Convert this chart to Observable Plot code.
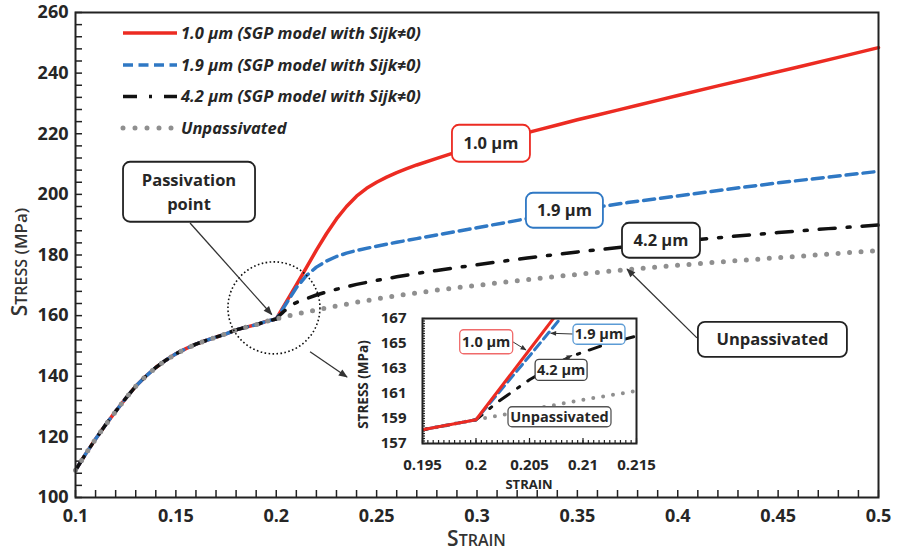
<!DOCTYPE html>
<html>
<head>
<meta charset="utf-8">
<script src="https://cdn.jsdelivr.net/npm/d3@7"></script>
<script src="https://cdn.jsdelivr.net/npm/@observablehq/plot@0.6"></script>
<style>
  body { margin: 0; background: #fff; }
  #chart { position: relative; width: 897px; height: 552px; }
</style>
</head>
<body>
<div id="chart"></div>
<script>
// ---------------- DATA ----------------
const seriesNames = [
  "1.0 µm (SGP model with Sijk≠0)",
  "1.9 µm (SGP model with Sijk≠0)",
  "4.2 µm (SGP model with Sijk≠0)",
  "Unpassivated"
];
const boxTexts = ["1.0 µm", "1.9 µm", "4.2 µm", "Unpassivated"];

// common curve up to the passivation point (strain 0.2)
const commonStrain = [0.1, 0.105, 0.11, 0.115, 0.12, 0.125, 0.13, 0.135, 0.14, 0.145, 0.15, 0.155, 0.16, 0.165, 0.17, 0.175, 0.18, 0.185, 0.19, 0.195, 0.2];
const commonStress = [109.0, 114.3, 119.3, 124.0, 128.4, 132.7, 136.7, 140.0, 142.9, 145.3, 147.4, 149.1, 150.6, 151.8, 152.9, 154.0, 155.3, 156.2, 157.0, 158.1, 158.9];

// 1.0 µm branch
const strain10 = [0.205, 0.21, 0.215, 0.22, 0.225, 0.23, 0.235, 0.24, 0.245, 0.25, 0.255, 0.26, 0.265, 0.27, 0.28, 0.29, 0.3, 0.31, 0.32, 0.33, 0.34, 0.35, 0.36, 0.37, 0.38, 0.39, 0.4, 0.42, 0.44, 0.46, 0.48, 0.5];
const stress10 = [164.5, 170.1, 175.8, 181.6, 187.0, 191.9, 196.0, 199.4, 202.0, 204.0, 205.7, 207.2, 208.5, 209.7, 211.9, 214.0, 216.0, 217.8, 219.5, 221.2, 222.9, 224.6, 226.2, 227.8, 229.4, 231.0, 232.6, 235.8, 238.9, 242.0, 245.2, 248.4];

// 1.9 µm branch
const strain19 = [0.205, 0.21, 0.215, 0.22, 0.225, 0.23, 0.235, 0.24, 0.25, 0.26, 0.27, 0.28, 0.29, 0.3, 0.325, 0.35, 0.375, 0.4, 0.425, 0.45, 0.475, 0.5];
const stress19 = [164.0, 169.2, 173.2, 176.0, 178.0, 179.5, 180.6, 181.5, 182.9, 184.2, 185.4, 186.6, 187.8, 189.0, 192.0, 194.8, 197.3, 199.5, 201.7, 203.8, 205.7, 207.6];

// 4.2 µm branch
const strain42 = [0.201, 0.202, 0.203, 0.204, 0.205, 0.206, 0.207, 0.208, 0.209, 0.21, 0.212, 0.215, 0.22, 0.225, 0.23, 0.24, 0.25, 0.26, 0.27, 0.28, 0.3, 0.325, 0.35, 0.375, 0.4, 0.425, 0.45, 0.475, 0.5];
const stress42 = [159.6, 160.3, 160.9, 161.5, 162.1, 162.6, 163.1, 163.6, 164.0, 164.3, 164.9, 165.6, 166.8, 167.8, 168.7, 170.3, 171.6, 172.8, 173.9, 174.9, 176.8, 179.0, 181.0, 182.8, 184.5, 186.0, 187.4, 188.7, 189.9];

// unpassivated branch
const strainUn = [0.205, 0.21, 0.215, 0.22, 0.23, 0.24, 0.25, 0.26, 0.27, 0.28, 0.3, 0.325, 0.35, 0.375, 0.4, 0.425, 0.45, 0.475, 0.5];
const stressUn = [159.7, 160.5, 161.2, 161.9, 163.2, 164.4, 165.5, 166.6, 167.5, 168.4, 170.0, 171.9, 173.6, 175.2, 176.6, 177.9, 179.1, 180.3, 181.5];

const xTicks = [0.1, 0.15, 0.2, 0.25, 0.3, 0.35, 0.4, 0.45, 0.5];
const yTicks = [100, 120, 140, 160, 180, 200, 220, 240, 260];
const insetXTicks = [0.195, 0.2, 0.205, 0.21, 0.215];
const insetYTicks = [157, 159, 161, 163, 165, 167];

// ---------------- BUILD ----------------
function build(bs, bv) {
  const xs = commonStrain.concat(bs), ys = commonStress.concat(bv);
  return xs.map((x, i) => ({strain: x, stress: ys[i]}));
}
const d10 = build(strain10, stress10);
const d19 = build(strain19, stress19);
const d42 = build(strain42, stress42);
const dUn = build(strainUn, stressUn);

const C_RED = "#ec2b22", C_BLUE = "#2f78c4", C_BLACK = "#111", C_GRAY = "#8f8f8f", C_TEXT = "#262626";
const FONT = "'Open Sans', 'Liberation Sans', sans-serif";

const W = 897, H = 552;
const M = {left: 75, right: 19, top: 12, bottom: 55};
const innerW = W - M.left - M.right, innerH = H - M.top - M.bottom;

const xMinor = d3.ticks(0.1, 0.5, 40);
const yMinor = d3.range(100, 261, 4);

const main = Plot.plot({
  width: W, height: H,
  marginLeft: M.left, marginRight: M.right, marginTop: M.top, marginBottom: M.bottom,
  x: {domain: [0.1, 0.5]},
  y: {domain: [100, 260]},
  style: {fontFamily: FONT, background: "white", color: C_TEXT},
  marks: [
    Plot.tickX(xMinor, {x: d => d, insetTop: innerH - 7, stroke: "#222", strokeWidth: 1.5}),
    Plot.tickY(yMinor, {y: d => d, insetRight: innerW - 7, stroke: "#222", strokeWidth: 1.5}),
    Plot.line(d10, {x: "strain", y: "stress", stroke: C_RED, strokeWidth: 3.5}),
    Plot.line(d19, {x: "strain", y: "stress", stroke: C_BLUE, strokeWidth: 3.5, strokeDasharray: "11,6"}),
    Plot.line(d42, {x: "strain", y: "stress", stroke: C_BLACK, strokeWidth: 3.5, strokeDasharray: "16,12,3,12"}),
    Plot.line(dUn, {x: "strain", y: "stress", stroke: C_GRAY, strokeWidth: 5, strokeDasharray: "0,11.5", strokeLinecap: "round"}),
    Plot.frame({stroke: "#222", strokeWidth: 2}),
    Plot.axisX({ticks: xTicks, tickSize: 0, tickPadding: 12, tickFormat: d => String(d), fontSize: 18, fontWeight: "bold", label: null}),
    Plot.axisY({ticks: yTicks, tickSize: 0, tickPadding: 7, tickFormat: d => String(d), fontSize: 18, fontWeight: "bold", label: null})
  ]
});
document.getElementById("chart").appendChild(main);
const svg = d3.select(main);

// ---------------- INSET ----------------
const IM = {left: 70, right: 10, top: 9, bottom: 50};
const IW = 70 + 214 + 10, IH = 9 + 125 + 50;
const iInnerW = IW - IM.left - IM.right, iInnerH = IH - IM.top - IM.bottom;
const ixMinor = d3.ticks(0.195, 0.215, 40);
const iyMinor = d3.range(157, 167.01, 0.2);

const inset = Plot.plot({
  width: IW, height: IH,
  marginLeft: IM.left, marginRight: IM.right, marginTop: IM.top, marginBottom: IM.bottom,
  x: {domain: [0.195, 0.215]},
  y: {domain: [157, 167]},
  style: {fontFamily: FONT, background: "transparent", color: C_TEXT},
  marks: [
    Plot.frame({fill: "white"}),
    Plot.tickX(ixMinor, {x: d => d, insetTop: iInnerH - 3, stroke: "#222", strokeWidth: 1.2}),
    Plot.tickX(insetXTicks, {x: d => d, insetTop: iInnerH - 5, stroke: "#222", strokeWidth: 1.2}),
    Plot.tickY(iyMinor, {y: d => d, insetRight: iInnerW - 3, stroke: "#222", strokeWidth: 1.2}),
    Plot.line(dUn, {x: "strain", y: "stress", stroke: C_GRAY, strokeWidth: 4, strokeDasharray: "0,10", strokeLinecap: "round", clip: true}),
    Plot.line(d42, {x: "strain", y: "stress", stroke: C_BLACK, strokeWidth: 3, strokeDasharray: "12,10,2.5,10", clip: true}),
    Plot.line(d19, {x: "strain", y: "stress", stroke: C_BLUE, strokeWidth: 3, strokeDasharray: "9,5", clip: true}),
    Plot.line(d10, {x: "strain", y: "stress", stroke: C_RED, strokeWidth: 3, clip: true}),
    Plot.frame({stroke: "#222", strokeWidth: 2}),
    Plot.axisX({ticks: insetXTicks, tickSize: 0, tickPadding: 16, tickFormat: d => String(d), fontSize: 15, fontWeight: "bold", label: null}),
    Plot.axisY({ticks: insetYTicks, tickSize: 0, tickPadding: 16, tickFormat: d => String(d), fontSize: 15, fontWeight: "bold", label: null})
  ]
});
const insetPos = {x: 352, y: 309};
const ig = svg.append("g").attr("transform", `translate(${insetPos.x},${insetPos.y})`)
  .attr("font-family", FONT).attr("font-size", 10).attr("text-anchor", "middle");
while (inset.firstChild) ig.node().appendChild(inset.firstChild);

// inset axis titles
ig.append("text").attr("x", IM.left + iInnerW / 2).attr("y", 180)
  .attr("text-anchor", "middle").attr("font-family", FONT).attr("font-weight", "bold")
  .attr("font-size", 13).attr("fill", C_TEXT).text("STRAIN");
ig.append("text").attr("transform", `translate(16,${IM.top + iInnerH / 2 + 4}) rotate(-90)`)
  .attr("text-anchor", "middle").attr("font-family", FONT).attr("font-weight", "bold")
  .attr("font-size", 13.5).attr("fill", C_TEXT).text("STRESS (MPa)");

// ---------------- ANNOTATIONS ----------------
const defs = svg.append("defs");
defs.append("marker").attr("id", "ah").attr("viewBox", "0 0 10 10")
  .attr("refX", 9).attr("refY", 5).attr("markerWidth", 10).attr("markerHeight", 9)
  .attr("markerUnits", "userSpaceOnUse").attr("orient", "auto")
  .append("path").attr("d", "M0,1 L10,5 L0,9 Z").attr("fill", "#333");
defs.append("marker").attr("id", "ahs").attr("viewBox", "0 0 10 10")
  .attr("refX", 9).attr("refY", 5).attr("markerWidth", 7).attr("markerHeight", 6)
  .attr("markerUnits", "userSpaceOnUse").attr("orient", "auto")
  .append("path").attr("d", "M0,1 L10,5 L0,9 Z").attr("fill", "#333");

function drawBox(g, X, Y, b) {
  const cx = X(b.x), cy = Y(b.y);
  g.append("rect").attr("x", cx - b.w / 2).attr("y", cy - b.h / 2).attr("width", b.w).attr("height", b.h)
    .attr("rx", b.r).attr("fill", "white").attr("stroke", b.stroke).attr("stroke-width", b.sw);
  const n = b.lines.length, lh = b.size * 1.45;
  b.lines.forEach((t, i) => {
    g.append("text").attr("x", cx).attr("y", cy + (i - (n - 1) / 2) * lh).attr("dy", "0.36em")
      .attr("text-anchor", "middle").attr("font-family", FONT).attr("font-weight", "bold")
      .attr("font-size", b.size).attr("fill", C_TEXT).text(t);
  });
}
function drawArrow(g, X, Y, a, marker, sw) {
  g.append("line").attr("x1", X(a.from[0])).attr("y1", Y(a.from[1]))
    .attr("x2", X(a.to[0])).attr("y2", Y(a.to[1]))
    .attr("stroke", "#333").attr("stroke-width", sw).attr("marker-end", `url(#${marker})`);
}

const mx = main.scale("x"), my = main.scale("y");
const MX = v => mx.apply(v), MY = v => my.apply(v);
const ann = svg.append("g");

// dotted circle around passivation point
ann.append("circle").attr("cx", MX(0.1991)).attr("cy", MY(162.4)).attr("r", 46)
  .attr("fill", "none").attr("stroke", "#111").attr("stroke-width", 1.6).attr("stroke-dasharray", "1.6,2.4");

const mainArrows = [
  {from: [0.1573, 190.4], to: [0.198, 160.2]},
  {from: [0.2171, 147.9], to: [0.2355, 139.6]},
  {from: [0.4098, 152.5], to: [0.375, 175.2]}
];
mainArrows.forEach(a => drawArrow(ann, MX, MY, a, "ah", 1.3));

const mainBoxes = [
  {lines: ["Passivation", "point"], x: 0.1568, y: 200.7, w: 132, h: 60, stroke: "#222", size: 16.5},
  {lines: [boxTexts[0]], x: 0.3072, y: 216.7, w: 78, h: 37, stroke: C_RED, size: 16.5},
  {lines: [boxTexts[1]], x: 0.3438, y: 194.6, w: 77, h: 35, stroke: C_BLUE, size: 16.5},
  {lines: [boxTexts[2]], x: 0.3919, y: 184.7, w: 78, h: 35, stroke: "#222", size: 16.5},
  {lines: [boxTexts[3]], x: 0.4474, y: 152.0, w: 149, h: 35, stroke: "#222", size: 16.5}
];
mainBoxes.forEach(b => drawBox(ann, MX, MY, {...b, r: 7, sw: 1.8}));

// inset annotations
const ix = inset.scale("x"), iy = inset.scale("y");
const IX = v => insetPos.x + ix.apply(v), IY = v => insetPos.y + iy.apply(v);
const insetArrows = [
  {from: [0.20348, 165.1], to: [0.20472, 164.44]},
  {from: [0.20908, 165.72], to: [0.20703, 165.78]},
  {from: [0.20806, 163.64], to: [0.20902, 164.0]}
];
insetArrows.forEach(a => drawArrow(ann, IX, IY, a, "ahs", 1));
const insetBoxes = [
  {lines: [boxTexts[0]], x: 0.2010, y: 165.1, w: 53, h: 24, stroke: "#f06a6a", size: 14.5},
  {lines: [boxTexts[1]], x: 0.21154, y: 165.7, w: 52, h: 20, stroke: "#5b9bd5", size: 14.5},
  {lines: [boxTexts[2]], x: 0.2080, y: 162.85, w: 52, h: 21, stroke: "#444", size: 14.5},
  {lines: [boxTexts[3]], x: 0.20785, y: 159.1, w: 103, h: 20, stroke: "#555", size: 14.5}
];
insetBoxes.forEach(b => drawBox(ann, IX, IY, {...b, r: 4, sw: 1.3}));

// main axis titles (small caps)
const xl = svg.append("text").attr("x", M.left + innerW / 2).attr("y", 546).attr("text-anchor", "middle")
  .attr("font-family", FONT).attr("font-weight", 600).attr("fill", "#333");
xl.append("tspan").attr("font-size", 21).text("S");
xl.append("tspan").attr("font-size", 16).text("TRAIN");
const yl = svg.append("text").attr("transform", `translate(27,262) rotate(-90)`).attr("text-anchor", "middle")
  .attr("font-family", FONT).attr("font-weight", 600).attr("fill", "#333");
yl.append("tspan").attr("font-size", 21).text("S");
yl.append("tspan").attr("font-size", 16).text("TRESS");
yl.append("tspan").attr("font-size", 17).text(" (MPa)");

// legend
const legendStyles = [
  {color: C_RED, w: 3.5, dash: null, cap: "butt"},
  {color: C_BLUE, w: 3.5, dash: "10,5.5", cap: "butt"},
  {color: C_BLACK, w: 3.5, dash: "14,12,3,12", cap: "butt"},
  {color: C_GRAY, w: 5, dash: "0,12", cap: "round"}
];
const lg = svg.append("g");
const legendRows = [33, 65, 96.5, 128];
legendStyles.forEach((s, i) => {
  const y = legendRows[i];
  lg.append("line").attr("x1", 123).attr("x2", 177).attr("y1", y).attr("y2", y)
    .attr("stroke", s.color).attr("stroke-width", s.w)
    .attr("stroke-dasharray", s.dash).attr("stroke-linecap", s.cap);
  lg.append("text").attr("x", 181).attr("y", y).attr("dy", "0.35em").attr("text-anchor", "start")
    .attr("font-family", FONT).attr("font-style", "italic").attr("font-weight", "bold")
    .attr("font-size", 16.5).attr("fill", C_TEXT).text(seriesNames[i]);
});
</script>
</body>
</html>
